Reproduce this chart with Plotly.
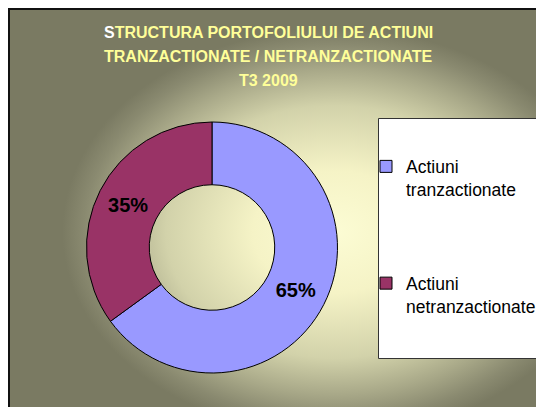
import urllib.parse
import plotly.graph_objects as go

# ---- data ----
labels = ["Actiuni<br>tranzactionate<br> <br> <br> ", "Actiuni<br>netranzactionate"]
values = [65, 35]
colors = ["#9999FF", "#993366"]
title_lines = [
    "<span style='color:#FFFFFF'>S</span>TRUCTURA PORTOFOLIULUI DE ACTIUNI",
    "TRANZACTIONATE / NETRANZACTIONATE",
    "T3 2009",
]

W, H = 544, 407
OFF = 8  # page body margin: figure starts at page pixel (8, 8)
FONT = "Liberation Sans, Arial, sans-serif"


def px(x):
    return (x - OFF) / W


def py(y):
    return 1 - (y - OFF) / H


# background gradient (chart area fill)
svg = (
    "<svg xmlns='http://www.w3.org/2000/svg' width='544' height='407' preserveAspectRatio='none'>"
    "<defs><radialGradient id='g' cx='0.6' cy='0.55' r='0.5'>"
    "<stop offset='0' stop-color='#fcfcd4'/>"
    "<stop offset='0.3' stop-color='#f5f3c6'/>"
    "<stop offset='0.62' stop-color='#d2d2aa'/>"
    "<stop offset='0.8' stop-color='#a8a888'/>"
    "<stop offset='0.92' stop-color='#8a8a70'/>"
    "<stop offset='1' stop-color='#7a7a62'/>"
    "</radialGradient></defs>"
    "<rect width='544' height='407' fill='url(#g)'/></svg>"
)
bg_uri = "data:image/svg+xml;charset=utf-8," + urllib.parse.quote(svg)

fig = go.Figure(
    go.Pie(
        labels=labels,
        values=values,
        hole=0.5,
        sort=False,
        direction="clockwise",
        rotation=0,
        marker=dict(colors=colors, line=dict(color="#000000", width=1)),
        textinfo="percent",
        textposition="inside",
        insidetextorientation="horizontal",
        textfont=dict(family=FONT, size=20, color="#000000", weight="bold"),
        domain=dict(x=[px(86.5), px(337.5)], y=[py(373), py(122)]),
        hoverinfo="label+percent",
    )
)

shapes = [
    # legend box
    dict(type="rect", xref="paper", yref="paper", layer="below",
         x0=px(378.5), x1=px(543), y0=py(358.5), y1=py(118.5),
         fillcolor="#FFFFFF", line=dict(color="#333333", width=1)),
    # chart frame
    dict(type="rect", xref="paper", yref="paper", layer="above",
         x0=1 / W, x1=1.02, y0=-0.02, y1=1 - 1 / H,
         fillcolor="rgba(0,0,0,0)", line=dict(color="#111111", width=2)),
]

annotations = []
for i, t in enumerate(title_lines):
    annotations.append(dict(
        text=t, xref="paper", yref="paper", x=px(268), y=py(32.5 + 24 * i),
        xanchor="center", yanchor="middle", showarrow=False,
        font=dict(family=FONT, size=16, color="#FFFF99", weight="bold"),
    ))

fig.update_layout(
    width=W, height=H,
    margin=dict(l=0, r=0, t=0, b=0, pad=0, autoexpand=False),
    paper_bgcolor="#7a7a62",
    plot_bgcolor="rgba(0,0,0,0)",
    showlegend=True,
    legend=dict(
        x=px(366), y=py(148.5), xanchor="left", yanchor="top",
        bgcolor="rgba(0,0,0,0)", borderwidth=0, valign="top",
        font=dict(family=FONT, size=17.5, color="#000000"),
        traceorder="normal",
    ),
    images=[dict(source=bg_uri, xref="paper", yref="paper",
                 x=0, y=1, sizex=1, sizey=1,
                 xanchor="left", yanchor="top", sizing="stretch", layer="below")],
    shapes=shapes,
    annotations=annotations,
)

fig.write_html("out.html")
